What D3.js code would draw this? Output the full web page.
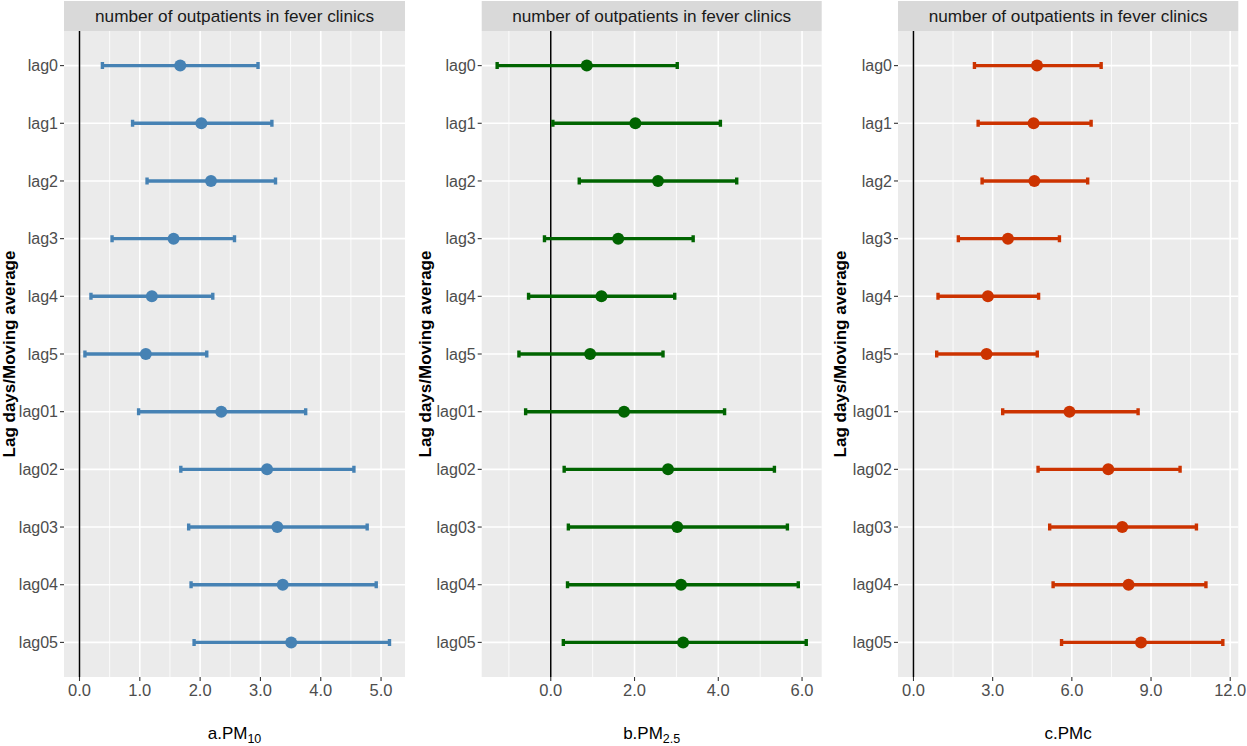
<!DOCTYPE html>
<html>
<head>
<meta charset="utf-8">
<script src="https://cdn.jsdelivr.net/npm/d3@7/dist/d3.min.js"></script>
<style>
  html, body { margin: 0; padding: 0; background: #ffffff; }
  svg { display: block; font-family: "Liberation Sans", Arial, sans-serif; }
</style>
</head>
<body>
<svg id="chart" width="1247" height="746"></svg>
<script>
// ---------- data ----------
const lags = ["lag0", "lag1", "lag2", "lag3", "lag4", "lag5", "lag01", "lag02", "lag03", "lag04", "lag05"];

const pm10Est  = [1.67, 2.02, 2.18, 1.56, 1.20, 1.10, 2.35, 3.11, 3.28, 3.37, 3.51];
const pm10Low  = [0.38, 0.88, 1.12, 0.54, 0.19, 0.09, 0.98, 1.68, 1.81, 1.85, 1.90];
const pm10High = [2.96, 3.19, 3.25, 2.57, 2.21, 2.11, 3.75, 4.55, 4.77, 4.92, 5.14];

const pm25Est  = [0.86, 2.02, 2.56, 1.61, 1.21, 0.94, 1.75, 2.80, 3.02, 3.11, 3.16];
const pm25Low  = [-1.28, 0.05, 0.68, -0.15, -0.53, -0.76, -0.60, 0.32, 0.42, 0.40, 0.30];
const pm25High = [3.02, 4.05, 4.44, 3.40, 2.96, 2.68, 4.15, 5.34, 5.65, 5.91, 6.10];

const pmcEst   = [4.68, 4.55, 4.58, 3.58, 2.82, 2.77, 5.91, 7.38, 7.91, 8.15, 8.62];
const pmcLow   = [2.31, 2.45, 2.60, 1.70, 0.93, 0.88, 3.38, 4.72, 5.16, 5.29, 5.61];
const pmcHigh  = [7.11, 6.73, 6.60, 5.53, 4.74, 4.69, 8.51, 10.10, 10.72, 11.08, 11.72];

const pm10Ticks = [0, 1, 2, 3, 4, 5];
const pm25Ticks = [0, 2, 4, 6];
const pmcTicks  = [0, 3, 6, 9, 12];

const stripLabel = "number of outpatients in fever clinics";
const yTitle = "Lag days/Moving average";
const xTitleMain = ["a.PM", "b.PM", "c.PMc"];
const xTitleSub  = ["10", "2.5", ""];

// ---------- layout ----------
const panels = [
  { est: pm10Est, low: pm10Low, high: pm10High, ticks: pm10Ticks, color: "#4682B4", origin: 0,      left: 64,    right: 405 },
  { est: pm25Est, low: pm25Low, high: pm25High, ticks: pm25Ticks, color: "#006400", origin: 415.67, left: 481.7, right: 821.7 },
  { est: pmcEst,  low: pmcLow,  high: pmcHigh,  ticks: pmcTicks,  color: "#CC3300", origin: 831.33, left: 898,   right: 1238.3 }
];
const stripTop = 1, panelTop = 31, panelBottom = 677;

const svg = d3.select("#chart");
const fmt = d3.format(".1f");

const y = d3.scalePoint().domain(lags).range([panelTop, panelBottom]).padding(0.6);

panels.forEach((p, i) => {
  const lo = Math.min(0, d3.min(p.low));
  const hi = Math.max(0, d3.max(p.high));
  const pad = (hi - lo) * 0.05;
  const x = d3.scaleLinear().domain([lo - pad, hi + pad]).range([p.left, p.right]);

  const g = svg.append("g");

  // panel background
  g.append("rect")
    .attr("x", p.left).attr("y", panelTop)
    .attr("width", p.right - p.left).attr("height", panelBottom - panelTop)
    .attr("fill", "#EBEBEB");

  // minor grid (midpoints between breaks)
  const step = p.ticks[1] - p.ticks[0];
  const minors = [];
  for (let v = p.ticks[0] - step / 2; v <= hi + pad; v += step) {
    if (v >= lo - pad) minors.push(v);
  }
  g.selectAll(".minor").data(minors).join("line")
    .attr("x1", d => x(d)).attr("x2", d => x(d))
    .attr("y1", panelTop).attr("y2", panelBottom)
    .attr("stroke", "#ffffff").attr("stroke-width", 0.8);

  // major grid
  g.selectAll(".majorx").data(p.ticks).join("line")
    .attr("x1", d => x(d)).attr("x2", d => x(d))
    .attr("y1", panelTop).attr("y2", panelBottom)
    .attr("stroke", "#ffffff").attr("stroke-width", 1.6);
  g.selectAll(".majory").data(lags).join("line")
    .attr("x1", p.left).attr("x2", p.right)
    .attr("y1", d => y(d)).attr("y2", d => y(d))
    .attr("stroke", "#ffffff").attr("stroke-width", 1.6);

  // vertical reference line at 0
  g.append("line")
    .attr("x1", x(0)).attr("x2", x(0))
    .attr("y1", panelTop).attr("y2", panelBottom)
    .attr("stroke", "#000000").attr("stroke-width", 1.5);

  // error bars
  const rows = lags.map((l, k) => ({ lag: l, est: p.est[k], low: p.low[k], high: p.high[k] }));
  const cap = 3.5;
  g.selectAll(".err").data(rows).join("path")
    .attr("d", d => {
      const yy = y(d.lag), a = x(d.low), b = x(d.high);
      return `M${a},${yy - cap}V${yy + cap}M${a},${yy}H${b}M${b},${yy - cap}V${yy + cap}`;
    })
    .attr("fill", "none")
    .attr("stroke", p.color).attr("stroke-width", 3.4);

  // points
  g.selectAll(".pt").data(rows).join("circle")
    .attr("cx", d => x(d.est)).attr("cy", d => y(d.lag))
    .attr("r", 6)
    .attr("fill", p.color);

  // x axis ticks & labels
  g.selectAll(".xt").data(p.ticks).join("line")
    .attr("x1", d => x(d)).attr("x2", d => x(d))
    .attr("y1", panelBottom).attr("y2", panelBottom + 4)
    .attr("stroke", "#333333").attr("stroke-width", 1.1);
  g.selectAll(".xl").data(p.ticks).join("text")
    .attr("x", d => x(d)).attr("y", panelBottom + 19)
    .attr("text-anchor", "middle")
    .attr("font-size", 16.5).attr("fill", "#4D4D4D")
    .text(d => fmt(d));

  // y axis ticks & labels
  g.selectAll(".yt").data(lags).join("line")
    .attr("x1", p.left - 4).attr("x2", p.left)
    .attr("y1", d => y(d)).attr("y2", d => y(d))
    .attr("stroke", "#333333").attr("stroke-width", 1.1);
  g.selectAll(".yl").data(lags).join("text")
    .attr("x", p.left - 6).attr("y", d => y(d))
    .attr("dy", "0.35em")
    .attr("text-anchor", "end")
    .attr("font-size", 16).attr("fill", "#4D4D4D")
    .text(d => d);

  // strip
  g.append("rect")
    .attr("x", p.left).attr("y", stripTop)
    .attr("width", p.right - p.left).attr("height", panelTop - stripTop)
    .attr("fill", "#D9D9D9");
  g.append("text")
    .attr("x", (p.left + p.right) / 2).attr("y", (stripTop + panelTop) / 2)
    .attr("dy", "0.36em")
    .attr("text-anchor", "middle")
    .attr("font-size", 17.2).attr("fill", "#1A1A1A")
    .text(stripLabel);

  // x title
  const t = g.append("text")
    .attr("x", (p.left + p.right) / 2).attr("y", 739)
    .attr("text-anchor", "middle")
    .attr("font-size", 17).attr("fill", "#000000");
  t.append("tspan").text(xTitleMain[i]);
  if (xTitleSub[i]) {
    t.append("tspan").attr("font-size", 12.5).attr("dy", 4).text(xTitleSub[i]);
  }

  // y title
  g.append("text")
    .attr("transform", `translate(${p.origin + 15},${(panelTop + panelBottom) / 2}) rotate(-90)`)
    .attr("text-anchor", "middle")
    .attr("font-size", 17).attr("font-weight", "bold").attr("fill", "#000000")
    .text(yTitle);
});
</script>
</body>
</html>
